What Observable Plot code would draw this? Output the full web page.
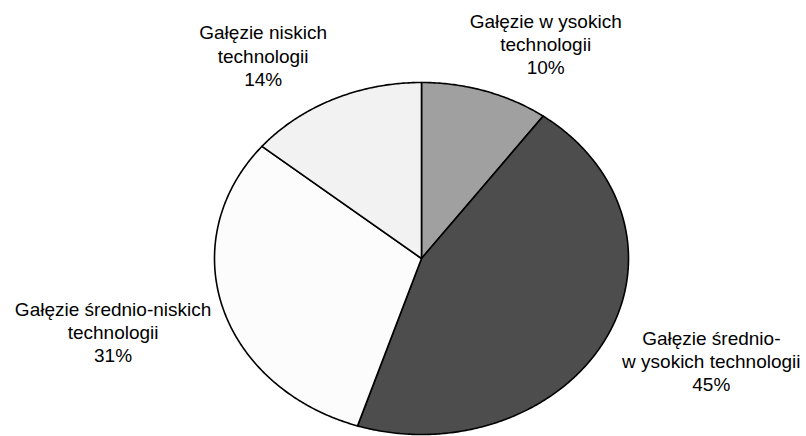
<!DOCTYPE html>
<html>
<head>
<meta charset="utf-8">
<script src="https://cdn.jsdelivr.net/npm/d3@7"></script>
<script src="https://cdn.jsdelivr.net/npm/@observablehq/plot@0.6"></script>
<style>
  html, body { margin: 0; padding: 0; background: #fff; }
  #chart { width: 806px; height: 436px; }
</style>
</head>
<body>
<div id="chart"></div>
<script>
// Data
const categories = [
  "Gałęzie w ysokich technologii",
  "Gałęzie średnio-w ysokich technologii",
  "Gałęzie średnio-niskich technologii",
  "Gałęzie niskich technologii"
];
const shares = [10, 45, 31, 14];
const labelTexts = [
  "Gałęzie w ysokich\ntechnologii\n10%",
  "Gałęzie średnio-\nw ysokich technologii\n45%",
  "Gałęzie średnio-niskich\ntechnologii\n31%",
  "Gałęzie niskich\ntechnologii\n14%"
];

// Layout (not data)
const sliceColors = ["#a0a0a0", "#4d4d4d", "#fcfcfc", "#f2f2f2"];
const labelPos = [[0.60, 1.22], [1.40, -0.58], [-1.49, -0.415], [-0.765, 1.155]];

const pie = d3.pie().sort(null).value(d => d)(shares);
const pts = [];
pie.forEach((s, i) => {
  const c = categories[i];
  pts.push({c, x: 0, y: 0});
  const n = Math.max(2, Math.ceil((s.endAngle - s.startAngle) / (Math.PI / 360)));
  for (let k = 0; k <= n; k++) {
    const a = s.startAngle + (s.endAngle - s.startAngle) * k / n;
    pts.push({c, x: Math.sin(a), y: Math.cos(a)});
  }
  pts.push({c, x: 0, y: 0});
});
const labels = categories.map((c, i) => ({c, t: labelTexts[i], x: labelPos[i][0], y: labelPos[i][1]}));

const chart = Plot.plot({
  width: 806,
  height: 436,
  margin: 0,
  x: {domain: [-1, 1], range: [214, 628], axis: null},
  y: {domain: [-1, 1], range: [434, 82], axis: null},
  color: {domain: categories, range: sliceColors},
  style: {fontFamily: "'Liberation Sans', Arial, sans-serif", background: "#fff"},
  marks: [
    Plot.line(pts, {x: "x", y: "y", z: "c", fill: "c", stroke: "#000", strokeWidth: 1.6, strokeLinejoin: "round", curve: "linear"}),
    Plot.text(labels, {x: "x", y: "y", text: "t", fill: "#000", fontSize: 19, lineHeight: 1.22, lineAnchor: "middle", textAnchor: "middle"})
  ]
});
document.getElementById("chart").appendChild(chart);
</script>
</body>
</html>
